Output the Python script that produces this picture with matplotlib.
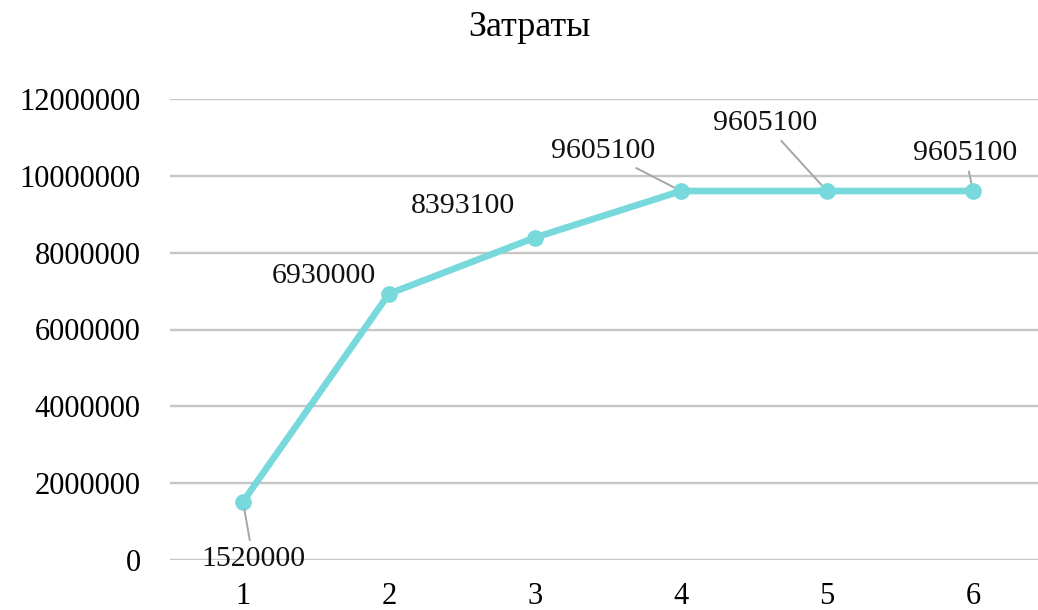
import matplotlib
matplotlib.use("Agg")
import matplotlib.pyplot as plt

# Cost data by period
periods = [1, 2, 3, 4, 5, 6]
costs = [1520000, 6930000, 8393100, 9605100, 9605100, 9605100]
y_ticks = [0, 2000000, 4000000, 6000000, 8000000, 10000000, 12000000]
title = "Затраты"

# label placement: offsets in pixels from the point, and whether a leader line is drawn
label_offsets = [(10, -57), (-65, 18), (-72, 32), (-78, 40), (-62, 68), (-8, 38)]
leader = [True, False, False, True, True, True]

plt.rcParams["font.family"] = ["Liberation Serif", "DejaVu Serif"]

W, H = 1038, 610
fig = plt.figure(figsize=(W / 100, H / 100), dpi=100)
left_px, right_px = 170, 1038
top_px, bottom_px = 99, 560
ax = fig.add_axes([left_px / W, 1 - bottom_px / H,
                   (right_px - left_px) / W, (bottom_px - top_px) / H])

line_color = "#78D9DD"
ax.plot(periods, costs, color=line_color, lw=4.8, marker="o", ms=11,
        solid_capstyle="round", solid_joinstyle="round", zorder=3, clip_on=False)

step = 146
ax.set_xlim(0.5, 0.5 + (right_px - left_px) / step)
ax.set_ylim(0, 12000000)
ax.set_xticks(periods)
ax.set_xticklabels([str(p) for p in periods])
ax.set_yticks(y_ticks)
ax.set_yticklabels([str(v) for v in y_ticks])
ax.tick_params(length=0, labelsize=22)
ax.tick_params(axis="y", pad=21)
ax.tick_params(axis="x", pad=16)

ax.grid(axis="y", color="#C6C6C6", lw=1.7)
ax.set_axisbelow(True)
for s in ax.spines.values():
    s.set_visible(False)

for x, y, (dx, dy), ll in zip(periods, costs, label_offsets, leader):
    arrow = dict(arrowstyle="-", color="#A6A6A6", lw=1.4, shrinkA=2, shrinkB=6) if ll else None
    ax.annotate(str(y), xy=(x, y), xytext=(dx, dy), textcoords="offset pixels",
                ha="center", va="center", fontsize=21.5, color="#111111",
                arrowprops=arrow, annotation_clip=False, zorder=4)

fig.text(529 / W, 1 - 28 / H, title, ha="center", va="center", fontsize=26)

fig.savefig("out.png", dpi=100, facecolor="white")
